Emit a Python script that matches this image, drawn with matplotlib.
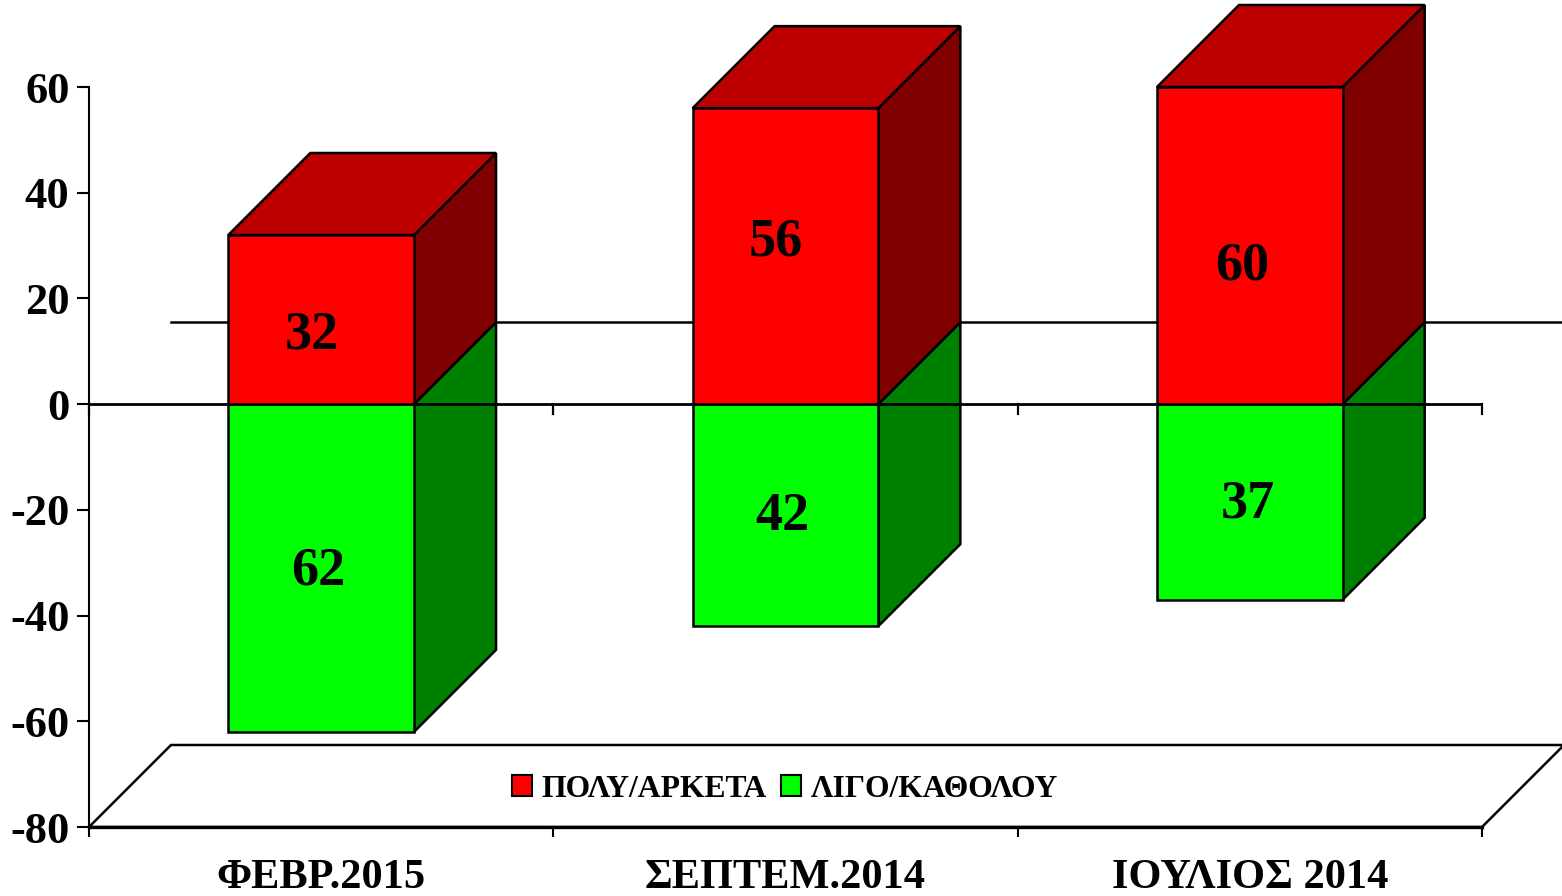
import matplotlib
matplotlib.use("Agg")
from matplotlib import pyplot as plt
from matplotlib.patches import Patch, Polygon

plt.rcParams["font.family"] = ["Liberation Serif", "DejaVu Serif"]
plt.rcParams["font.weight"] = "bold"
plt.rcParams["axes.unicode_minus"] = False

categories = ["ΦΕΒΡ.2015", "ΣΕΠΤΕΜ.2014", "ΙΟΥΛΙΟΣ 2014"]
series_names = ["ΠΟΛΥ/ΑΡΚΕΤΑ", "ΛΙΓΟ/ΚΑΘΟΛΟΥ"]
much = [32, 56, 60]
little = [-62, -42, -37]
y_ticks = [60, 40, 20, 0, -20, -40, -60, -80]

# hand placed labels in the original, pixels away from the bar centre
much_offsets = [(-9, -16), (-10, 14), (-8, -21)]
little_offsets = [(-3, -3), (-3, -2), (-2, -3)]

BAR_WIDTH = 0.4
DEPTH_X = 82 / 464.33
DEPTH_Y = 82 / (740 / 140)
LINE = 1.8


def bar_3d(ax, x, value, front, top, side):
    left, right = x - BAR_WIDTH / 2, x + BAR_WIDTH / 2
    edge = dict(edgecolor="k", linewidth=LINE, joinstyle="miter", clip_on=False)
    ax.add_patch(Polygon([(right, 0), (right + DEPTH_X, DEPTH_Y), (right + DEPTH_X, value + DEPTH_Y), (right, value)],
                         facecolor=side, zorder=3, **edge))
    if value > 0:
        ax.add_patch(Polygon([(left, value), (left + DEPTH_X, value + DEPTH_Y),
                              (right + DEPTH_X, value + DEPTH_Y), (right, value)],
                             facecolor=top, zorder=3, **edge))
    ax.add_patch(Polygon([(left, 0), (right, 0), (right, value), (left, value)], facecolor=front, zorder=5, **edge))


def main():
    fig = plt.figure(figsize=(15.62, 8.96), dpi=100)
    ax = fig.add_axes([89 / 1562, 69 / 896, 1393 / 1562, 740 / 896])
    ax.set_xlim(-0.5, 2.5)
    ax.set_ylim(-80, 60)

    # floor and back wall line
    ax.add_patch(Polygon([(-0.5, -80), (-0.5 + DEPTH_X, -80 + DEPTH_Y), (2.5 + DEPTH_X, -80 + DEPTH_Y), (2.5, -80)],
                         facecolor="w", edgecolor="k", linewidth=LINE, clip_on=False, zorder=1))
    ax.plot([-0.5 + DEPTH_X, 2.5 + DEPTH_X], [DEPTH_Y, DEPTH_Y], color="k", linewidth=LINE, clip_on=False, zorder=2)

    for i in range(len(categories)):
        bar_3d(ax, i, little[i], "#00FF00", "#00BC00", "#008000")
        bar_3d(ax, i, much[i], "#FF0000", "#BC0000", "#800000")
        ax.annotate(str(much[i]), (i, much[i] / 2), xytext=much_offsets[i], textcoords="offset pixels",
                    ha="center", va="center", fontsize=39, zorder=7)
        ax.annotate(str(abs(little[i])), (i, little[i] / 2), xytext=little_offsets[i], textcoords="offset pixels",
                    ha="center", va="center", fontsize=39, zorder=7)

    # zero line with its ticks, runs over the side faces
    ax.axhline(0, color="k", linewidth=2, zorder=4)
    for x_ in [-0.5, 0.5, 1.5, 2.5]:
        ax.plot([x_, x_], [0, -1.9], color="k", linewidth=1.6, clip_on=False, zorder=4)

    for name in ["top", "right"]:
        ax.spines[name].set_visible(False)
    ax.spines["left"].set_linewidth(1.5)
    ax.spines["bottom"].set_linewidth(2.4)

    ax.set_yticks(y_ticks)
    ax.tick_params(axis="y", length=8.5, width=1.5, pad=5.5, labelsize=32)
    ax.set_xticks([-0.5, 0.5, 1.5, 2.5])
    ax.set_xticklabels([])
    ax.tick_params(axis="x", length=7.5, width=1.5)
    ax.set_xticks([0, 1, 2], labels=categories, minor=True)
    ax.tick_params(axis="x", which="minor", length=0, pad=23, labelsize=30.5)
    for label in ax.get_yticklabels() + ax.get_xticklabels(minor=True):
        label.set_fontweight("bold")

    handles = [Patch(facecolor="#FF0000", edgecolor="k", linewidth=1.5),
               Patch(facecolor="#00FF00", edgecolor="k", linewidth=1.5)]
    ax.legend(handles, series_names, ncol=2, frameon=False, loc="center", fontsize=22.8,
              bbox_to_anchor=(785 / 1562, (896 - 789) / 896), bbox_transform=fig.transFigure,
              handlelength=0.63, handleheight=0.63, handletextpad=0.3, columnspacing=0.45)

    fig.savefig("out.png", dpi=100)


if __name__ == "__main__":
    main()
